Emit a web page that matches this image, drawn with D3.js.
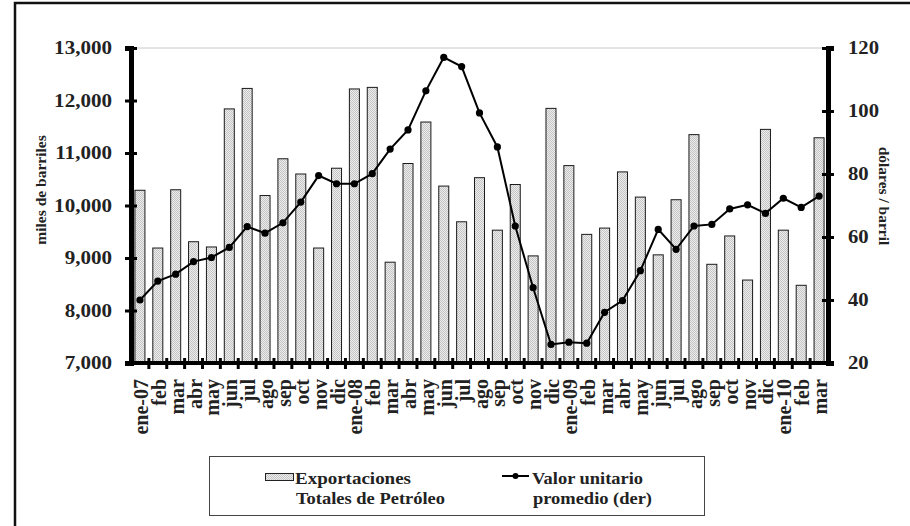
<!DOCTYPE html>
<html><head><meta charset="utf-8">
<script src="https://cdn.jsdelivr.net/npm/d3@7"></script>
<style>
body{margin:0;background:#fff;}
</style></head>
<body><svg id="c" width="910" height="526"></svg>
<script>
const categories = ["ene-07","feb","mar","abr","may","jun","jul","ago","sep","oct","nov","dic",
  "ene-08","feb","mar","abr","may","jun","jul","ago","sep","oct","nov","dic",
  "ene-09","feb","mar","abr","may","jun","jul","ago","sep","oct","nov","dic",
  "ene-10","feb","mar"];
const exportaciones = [10290,9190,10300,9310,9210,11840,12230,10190,10890,10600,9190,10710,
  12220,12250,8920,10800,11590,10370,9690,10530,9530,10400,9040,11850,
  10760,9450,9570,10640,10160,9060,10110,11350,8880,9420,8580,11450,
  9530,8480,11290];
const valorUnitario = [40.0,46.0,48.2,52.2,53.5,56.7,63.3,61.2,64.5,71.1,79.5,76.9,
  76.9,80.1,87.9,94.0,106.4,117.0,114.1,99.4,88.6,63.5,43.9,25.9,
  26.6,26.3,36.1,39.8,49.3,62.4,56.1,63.5,64.0,68.9,70.2,67.5,
  72.3,69.4,73.0];
const leftTicks = [7000,8000,9000,10000,11000,12000,13000];
const rightTicks = [20,40,60,80,100,120];
const leftTitle = "miles de barriles";
const rightTitle = "dólares / barril";
const legendBar = ["Exportaciones","Totales de Petróleo"];
const legendLine = ["Valor unitario","promedio (der)"];

const FONT = "'Liberation Serif','Times New Roman',Times,serif";
function st(sel, size){
  return sel.style("font-family",FONT).style("font-weight","bold").style("font-size",size+"px").attr("fill","#222");
}
function stretch(sel, k){
  sel.each(function(){ const w=this.getComputedTextLength(); d3.select(this).attr("textLength",w*k).attr("lengthAdjust","spacingAndGlyphs"); });
}

const svg = d3.select("#c");
const L = 131, R = 828, T = 48, B = 363;

// pattern
const defs = svg.append("defs");
const pat = defs.append("pattern").attr("id","dots").attr("width",2).attr("height",2).attr("patternUnits","userSpaceOnUse");
pat.append("rect").attr("width",2).attr("height",2).attr("fill","#ededed");
pat.append("rect").attr("width",1).attr("height",1).attr("fill","#c4c4c4");
pat.append("rect").attr("x",1).attr("y",1).attr("width",1).attr("height",1).attr("fill","#c4c4c4");

// frame
svg.append("rect").attr("x",15).attr("y",3).attr("width",1000).attr("height",1000)
  .attr("fill","none").attr("stroke","#111").attr("stroke-width",2.5);

const x = d3.scaleBand().domain(d3.range(categories.length)).range([L,R]).paddingInner(0.44).paddingOuter(0.22);
const yL = d3.scaleLinear().domain([7000,13000]).range([B,T]);
const yR = d3.scaleLinear().domain([20,120]).range([B,T]);
const step = x.step();

// top gridline
svg.append("line").attr("x1",L).attr("x2",R).attr("y1",yL(13000)).attr("y2",yL(13000))
  .attr("stroke","#c8c8c8").attr("stroke-width",1);

// bars
svg.append("g").selectAll("rect").data(exportaciones).join("rect")
  .attr("x",(d,i)=>x(i)).attr("width",x.bandwidth())
  .attr("y",d=>yL(d)).attr("height",d=>yL(7000)-yL(d))
  .attr("fill","url(#dots)").attr("stroke","#1a1a1a").attr("stroke-width",1);

// line
const line = d3.line().x((d,i)=>x(i)+x.bandwidth()/2).y(d=>yR(d));
svg.append("path").datum(valorUnitario).attr("d",line).attr("fill","none").attr("stroke","#000").attr("stroke-width",2);
svg.append("g").selectAll("circle").data(valorUnitario).join("circle")
  .attr("cx",(d,i)=>x(i)+x.bandwidth()/2).attr("cy",d=>yR(d)).attr("r",3.6).attr("fill","#000");

// left axis
const gl = svg.append("g").attr("transform",`translate(${L},0)`)
  .call(d3.axisLeft(yL).tickValues(leftTicks).tickFormat(d3.format(",")).tickSize(6).tickPadding(13));
gl.select(".domain").attr("stroke","#000").attr("stroke-width",5);
gl.selectAll(".tick line").attr("x1",6).attr("stroke","#000").attr("stroke-width",3);
st(gl.selectAll(".tick text"),18).call(stretch,1.17);

// right axis
const gr = svg.append("g").attr("transform",`translate(${R},0)`)
  .call(d3.axisRight(yR).tickValues(rightTicks).tickSize(6).tickPadding(14));
gr.select(".domain").attr("stroke","#000").attr("stroke-width",5);
gr.selectAll(".tick line").attr("x1",-6).attr("stroke","#000").attr("stroke-width",3);
st(gr.selectAll(".tick text"),18).call(stretch,1.15);

// x axis
svg.append("line").attr("x1",L).attr("x2",R+5).attr("y1",B).attr("y2",B).attr("stroke","#000").attr("stroke-width",4);
svg.append("g").selectAll("line").data(d3.range(1,categories.length)).join("line")
  .attr("x1",i=>L+i*step).attr("x2",i=>L+i*step)
  .attr("y1",B-5).attr("y2",B+6).attr("stroke","#000").attr("stroke-width",3);
st(svg.append("g").selectAll("text").data(categories).join("text")
  .attr("transform",(d,i)=>`translate(${x(i)+x.bandwidth()/2+8},${B+16}) scale(1.05,1) rotate(-90)`)
  .attr("text-anchor","end").text(d=>d),20);

// titles
st(svg.append("text").attr("transform",`translate(${46},${190}) rotate(-90)`)
  .attr("text-anchor","middle").text(leftTitle),15.5);
st(svg.append("text").attr("transform",`translate(${879},${196}) rotate(90)`)
  .attr("text-anchor","middle").text(rightTitle),15.5);

// legend
svg.append("rect").attr("x",209.5).attr("y",456.5).attr("width",495).attr("height",59)
  .attr("fill","#fff").attr("stroke","#444").attr("stroke-width",1);
svg.append("rect").attr("x",265.5).attr("y",473.5).attr("width",28).attr("height",7)
  .attr("fill","url(#dots)").attr("stroke","#222").attr("stroke-width",1);
st(svg.append("text").attr("x",295).attr("y",484).text(legendBar[0]),16).attr("textLength",116).attr("lengthAdjust","spacingAndGlyphs");
st(svg.append("text").attr("x",296).attr("y",504).text(legendBar[1]),16).attr("textLength",149).attr("lengthAdjust","spacingAndGlyphs");
svg.append("line").attr("x1",502).attr("x2",529).attr("y1",476).attr("y2",476).attr("stroke","#000").attr("stroke-width",2);
svg.append("circle").attr("cx",515.5).attr("cy",476).attr("r",3).attr("fill","#000");
st(svg.append("text").attr("x",532).attr("y",484).text(legendLine[0]),16).attr("textLength",111).attr("lengthAdjust","spacingAndGlyphs");
st(svg.append("text").attr("x",533).attr("y",504).text(legendLine[1]),16).attr("textLength",119).attr("lengthAdjust","spacingAndGlyphs");
</script></body></html>
